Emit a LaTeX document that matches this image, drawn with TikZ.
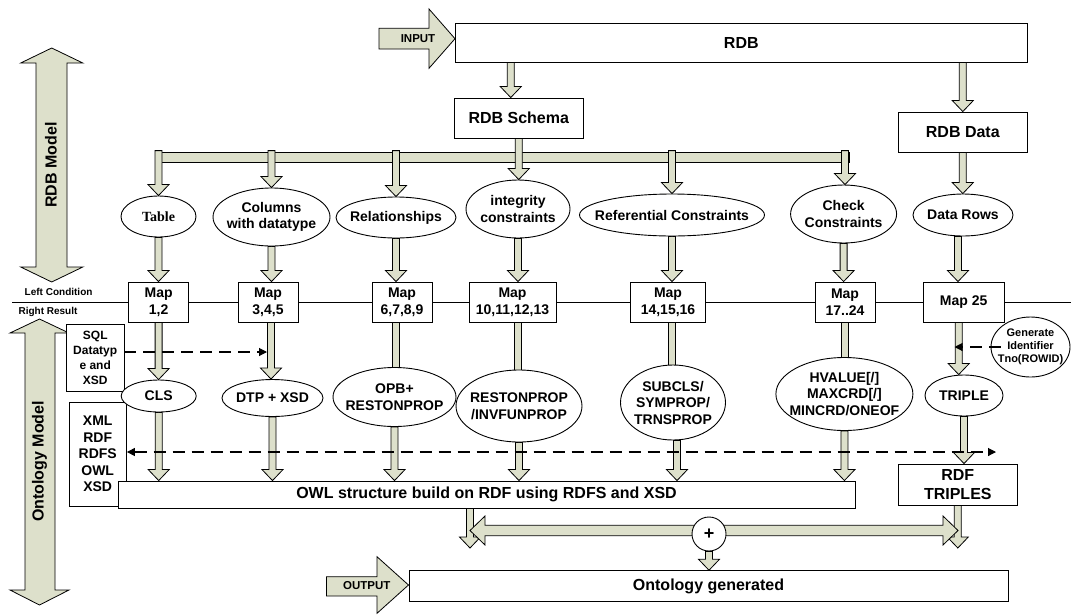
\documentclass[tikz,border=0pt]{standalone}
\usepackage{fontspec}
\setmainfont{Liberation Sans}
\newfontfamily\timesfont{Liberation Serif}
\usetikzlibrary{arrows.meta, shapes.geometric, backgrounds, calc}

\definecolor{sagefill}{RGB}{221,224,203}

\begin{document}
\begin{tikzpicture}[
    x=1pt, y=-1pt,
    >={Triangle[length=8pt, width=8pt]},
    every node/.style={font=\bfseries\fontsize{14}{16.5}\selectfont},
    block/.style={
        rectangle,
        draw=black,
        fill=white,
        line width=0.9pt,
        align=center,
        inner sep=0pt
    },
    mapbox/.style={block, minimum width=60pt, minimum height=40pt,
        font=\bfseries\fontsize{14}{17}\selectfont},
    oval/.style={
        ellipse,
        draw=black,
        fill=white,
        line width=0.9pt,
        align=center,
        inner xsep=-20pt,
        inner ysep=-6pt
    },
    big/.style={font=\bfseries\fontsize{16}{19}\selectfont},
    tag/.style={font=\bfseries\fontsize{10}{12}\selectfont},
    bigarrow/.style={draw=black, fill=sagefill, line width=0.8pt},
    flow/.style={
        bigarrow,
        to path={let \p1=(\tikztostart), \p2=(\tikztotarget) in
            (\x1-3.5pt,\y1) -- (\x1-3.5pt,\y2+11pt) -- (\x1-10.5pt,\y2+11pt)
            -- (\x1,\y2) -- (\x1+10.5pt,\y2+11pt) -- (\x1+3.5pt,\y2+11pt)
            -- (\x1+3.5pt,\y1) -- cycle}
    },
    hint/.style={draw=black, line width=1.1pt, dash pattern=on 12pt off 7pt, ->}
]
\useasboundingbox (0,0) rectangle (1071,614);

% ==================== RDB LAYER ====================
\node[block, big, minimum width=572.6pt, minimum height=39pt] (rdb) at (741.3,42.5) {RDB};
\node[block, big, minimum width=129.5pt, minimum height=40pt] (schema) at (518.75,118) {RDB Schema};
\node[block, big, minimum width=129.6pt, minimum height=40pt] (rdbdata) at (962.8,132) {RDB Data};
\node[font=\bfseries\fontsize{11.5}{13}\selectfont] (input) at (418,38.7) {INPUT};

% schema parts
\node[oval, minimum width=75pt, minimum height=41pt, font=\timesfont\bfseries\fontsize{14}{16}\selectfont] (table) at (158.5,216.5) {Table};
\node[oval, minimum width=117pt, minimum height=58pt] (columns) at (271.5,217) {Columns\\with datatype};
\node[oval, minimum width=120pt, minimum height=41pt] (relations) at (396,217.5) {Relationships};
\node[oval, minimum width=104pt, minimum height=58pt] (integrity) at (518,209) {integrity\\constraints};
\node[oval, minimum width=185pt, minimum height=42pt] (referential) at (672,215) {Referential Constraints};
\node[oval, minimum width=106pt, minimum height=58pt] (check) at (843.6,214) {Check\\Constraints};
\node[oval, minimum width=100pt, minimum height=42pt] (datarows) at (963,215) {Data Rows};

% ==================== MAPPING RULES ====================
\node[tag] (leftcond) at (58.6,292) {Left Condition};
\node[tag] (rightres) at (48,312) {Right Result};
\node[mapbox] (map1) at (158.6,302) {Map\\1,2};
\node[mapbox] (map2) at (268,302) {Map\\3,4,5};
\node[mapbox] (map3) at (402,302) {Map\\6,7,8,9};
\node[mapbox, minimum width=87pt] (map4) at (512.5,302) {Map\\10,11,12,13};
\node[mapbox, minimum width=75pt] (map5) at (668,302) {Map\\14,15,16};
\node[mapbox] (map6) at (845,302) {Map\\17..24};
\node[mapbox, minimum width=81.5pt] (map7) at (963.7,302) {Map 25};

% ==================== ONTOLOGY LAYER ====================
\node[block, minimum width=57.5pt, minimum height=67pt, font=\bfseries\fontsize{12}{15}\selectfont] (sqltypes) at (95.25,357.5) {SQL\\Datatyp\\e and\\XSD};
\node[block, minimum width=57.5pt, minimum height=104pt] (standards) at (97.7,454) {XML\\RDF\\RDFS\\OWL\\XSD};

\node[oval, minimum width=75pt, minimum height=32pt] (cls) at (158.7,396) {CLS};
\node[oval, minimum width=101pt, minimum height=37pt] (dtp) at (272.5,398) {DTP + XSD};
\node[oval, minimum width=123pt, minimum height=59pt] (opb) at (394.5,397) {OPB+\\RESTONPROP};
\node[oval, minimum width=126pt, minimum height=72pt] (reston) at (519,406) {RESTONPROP\\/INVFUNPROP};
\node[oval, minimum width=105pt, minimum height=75pt] (subcls) at (673,402.5) {SUBCLS/\\SYMPROP/\\TRNSPROP};
\node[oval, minimum width=137pt, minimum height=73pt] (hvalue) at (844.4,394) {HVALUE[/]\\MAXCRD[/]\\MINCRD/ONEOF};
\node[oval, minimum width=78pt, minimum height=41pt] (triple) at (964,395.5) {TRIPLE};
\node[oval, minimum width=79pt, minimum height=60pt, font=\bfseries\fontsize{11}{13}\selectfont] (generate) at (1030.5,347) {Generate\\Identifier\\Tno(ROWID)};

\node[block, big, minimum width=737pt, minimum height=27pt] (owl) at (486.5,494.5) {OWL structure build on RDF using RDFS and XSD};
\node[block, big, minimum width=119.6pt, minimum height=41pt] (rdftriples) at (957.8,484.5) {RDF\\TRIPLES};

% ==================== OUTPUT ====================
\node[circle, draw=black, fill=white, line width=0.9pt, minimum size=34pt, inner sep=0pt,
    font=\bfseries\fontsize{18}{18}\selectfont] (plus) at (709,534) {+};
\node[block, big, minimum width=599pt, minimum height=31pt] (ontology) at (708.5,586.2) {Ontology generated};
\node[font=\bfseries\fontsize{11.5}{13}\selectfont] (output) at (366.7,586) {OUTPUT};

% side labels
\node[big, rotate=90] (rdbmodel) at (50.8,165) {RDB Model};
\node[big, rotate=90] (ontomodel) at (39.5,461.5) {Ontology Model};

\coordinate (sqlhit) at (267,352);
\coordinate (rdfhit) at (996,452);
\coordinate (genhit) at (954.5,347);
\coordinate (mergeleft) at (470,548);
\coordinate (mergeright) at (958,548);

\begin{pgfonlayer}{background}
% divider between the two models
\draw[line width=0.8pt] (12,302) -- (1071,302);

% side and in/out arrows
\draw[bigarrow] (379,28.3) -- (429,28.3) -- (429,9) -- (455,38.7) -- (429,68.3) -- (429,49) -- (379,49) -- cycle;
\draw[bigarrow] (326.4,576.7) -- (377,576.7) -- (377,556.7) -- (408.5,585) -- (377,613.3) -- (377,596) -- (326.4,596) -- cycle;
\draw[bigarrow] (51.7,48) -- (82.8,63) -- (67,63) -- (67,267) -- (82.8,267) -- (51.7,282)
    -- (20.7,267) -- (36,267) -- (36,63) -- (20.7,63) -- cycle;
\draw[bigarrow] (39.5,319) -- (69,333) -- (55,333) -- (55,590) -- (69,590) -- (39.5,605)
    -- (10,590) -- (25,590) -- (25,333) -- (10,333) -- cycle;

% schema bus
\node[bigarrow, rectangle, minimum width=691pt, minimum height=10pt, inner sep=0pt] (bus) at (503.5,157) {};

% RDB split
\draw[flow] ([xshift=-8pt]schema.north |- rdb.south) to ([xshift=-8pt]schema.north);
\draw[flow] (rdb.south -| rdbdata.north) to (rdbdata.north);
\draw[flow] (schema.south) to (integrity.north);
\draw[flow] ([yshift=1pt]bus.north -| table.north) to (table.north);
\draw[flow] ([yshift=1pt]bus.north -| columns.north) to (columns.north);
\draw[flow] ([yshift=1pt]bus.north -| relations.north) to (relations.north);
\draw[flow] ([yshift=1pt]bus.north -| referential.north) to (referential.north);
\draw[flow] ([yshift=1pt]bus.north -| map6.north) to (check.north);
\draw[flow] (rdbdata.south) to (datarows.north);

% parts into rules
\draw[flow] (table.south) to (map1.north);
\draw[flow] (columns.south) to (map2.north);
\draw[flow] (relations.south) to (map3.north);
\draw[flow] (integrity.south) to (map4.north);
\draw[flow] (referential.south) to (map5.north);
\draw[flow] (check.south) to (map6.north);
\draw[flow] ([xshift=-5pt]datarows.south) to (map7.north);

% rules into ontology terms
\draw[flow] (map1.south) to (cls.north);
\draw[flow] ([xshift=3pt]map2.south) to (dtp.north);
\draw[flow] ([xshift=-6pt]map3.south) to ([yshift=-13pt]opb.north);
\draw[flow] (map4.south -| integrity.south) to ([yshift=-13pt]reston.north);
\draw[flow] (map5.south -| referential.south) to ([yshift=-13pt]subcls.north);
\draw[flow] (map6.south) to ([yshift=-13pt]hvalue.north);
\draw[flow] ([xshift=-5pt]map7.south) to (triple.north);

% terms into OWL structure
\draw[flow] (cls.south) to (cls.south |- owl.north);
\draw[flow] (dtp.south) to (dtp.south |- owl.north);
\draw[flow] (opb.south) to (opb.south |- owl.north);
\draw[flow] (reston.south) to (reston.south |- owl.north);
\draw[flow] ([xshift=4pt]subcls.south) to ([xshift=4pt]subcls.south |- owl.north);
\draw[flow] (hvalue.south) to (hvalue.south |- owl.north);
\draw[flow] (triple.south) to (rdftriples.north);

% merge
\draw[flow] (owl.south -| mergeleft) to (mergeleft);
\draw[flow] (rdftriples.south) to (mergeright);
\draw[bigarrow] (470,530.5) -- (485,516) -- (485,525.3) -- (943,525.3) -- (943,516) -- (958,530.5)
    -- (943,545) -- (943,535.7) -- (485,535.7) -- (485,545) -- cycle;
\draw[flow] (plus.south) to (ontology.north);
\end{pgfonlayer}

% ==================== HINTS ====================
\draw[hint] (sqlhit -| sqltypes.east) -- (sqlhit);
\draw[hint, <->] (rdfhit -| standards.east) -- (rdfhit);
\draw[hint] ([xshift=10pt]generate.west) -- (genhit);

\end{tikzpicture}
\end{document}
